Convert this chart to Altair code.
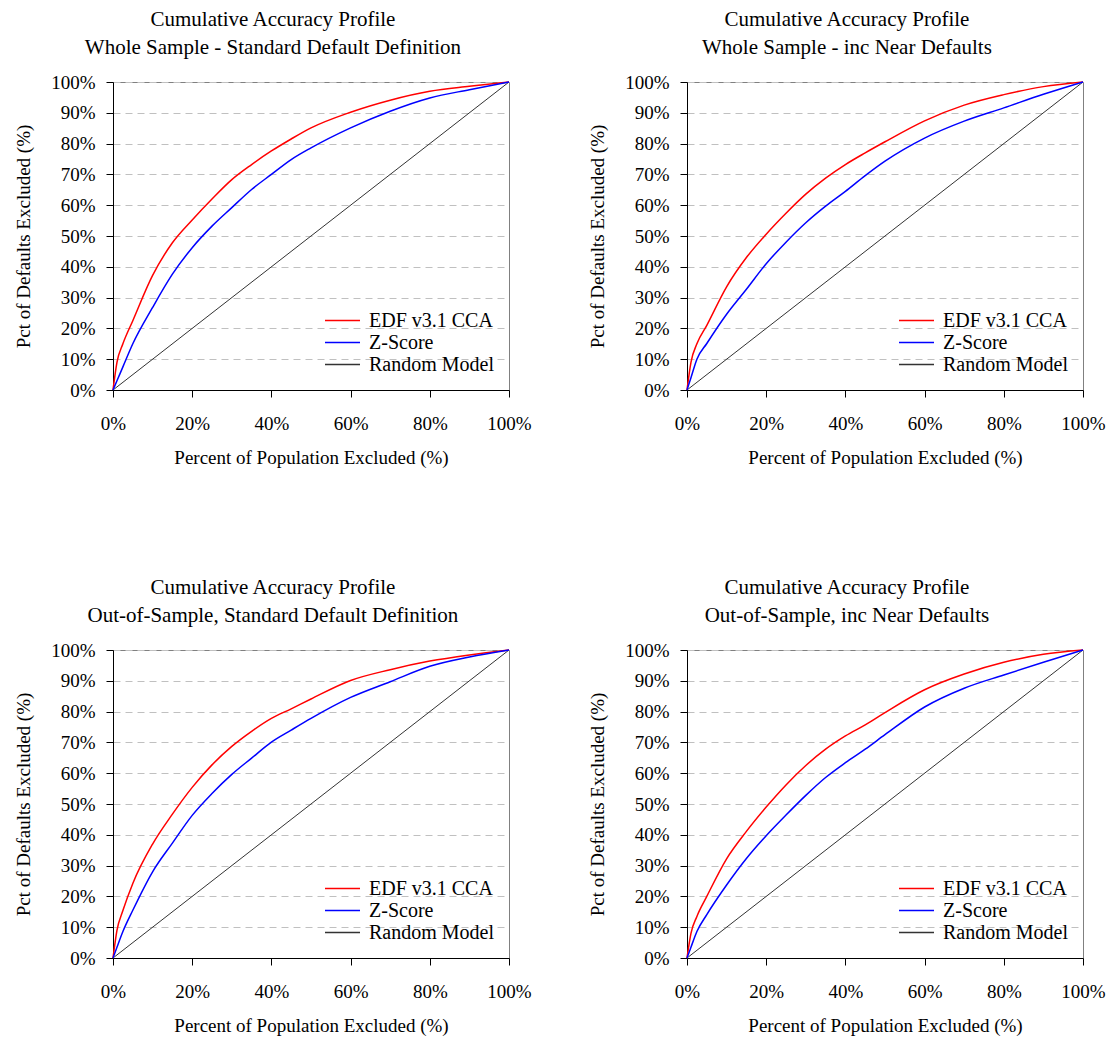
import altair as alt
import pandas as pd

FONT = "Liberation Serif"

series_names = ["EDF v3.1 CCA", "Z-Score", "Random Model"]
series_colors = ["#FF0000", "#0000FF", "#333333"]

title_line1 = "Cumulative Accuracy Profile"
panel_subtitles = [
    "Whole Sample - Standard Default Definition",
    "Whole Sample - inc Near Defaults",
    "Out-of-Sample, Standard Default Definition",
    "Out-of-Sample, inc Near Defaults",
]

x_title = "Percent of Population Excluded (%)"
y_title = "Pct of Defaults Excluded (%)"
x_ticks = [0, 20, 40, 60, 80, 100]
y_ticks = [0, 10, 20, 30, 40, 50, 60, 70, 80, 90, 100]

# Percent of population excluded (shared x grid for the curves)
pop_x = [0, 1, 2.5, 5, 10, 15, 20, 25, 30, 35, 40, 45, 50, 60, 70, 80, 90, 100]

# Panel 1: Whole Sample - Standard Default Definition
p1_edf = [0, 9, 15, 22.5, 37.2, 47.8, 55.2, 62, 68.3, 73.2, 77.6, 81.5, 85.1, 90.2, 94.1, 97, 98.6, 100]
p1_z = [0, 3, 7.5, 15, 26.8, 37.6, 46.2, 53.2, 59.2, 65.1, 70, 74.8, 78.6, 85.1, 90.5, 94.8, 97.5, 100]

# Panel 2: Whole Sample - inc Near Defaults
p2_edf = [0, 9, 15, 21, 33.5, 43, 50.6, 57.4, 63.6, 68.8, 73.2, 77, 80.6, 87.4, 92.5, 95.9, 98.5, 100]
p2_z = [0, 4, 10, 15.1, 24.6, 32.7, 41, 48, 54.3, 59.7, 64.5, 69.6, 74.3, 81.8, 87.3, 91.6, 96, 100]

# Panel 3: Out-of-Sample, Standard Default Definition
p3_edf = [0, 9, 15.4, 24.2, 37, 46.7, 55.4, 62.7, 68.7, 73.6, 77.8, 80.9, 84.1, 90.1, 93.6, 96.4, 98.4, 100]
p3_z = [0, 3.5, 8.6, 15.5, 28, 37.3, 46.3, 53.4, 59.6, 64.9, 70.1, 74, 77.8, 84.6, 89.7, 94.7, 97.7, 100]

# Panel 4: Out-of-Sample, inc Near Defaults
p4_edf = [0, 8, 13.5, 20, 32.2, 41.1, 49, 56.2, 62.5, 67.8, 72.1, 75.7, 79.7, 87.1, 92.2, 96, 98.6, 100]
p4_z = [0, 3.5, 8.6, 14.1, 23.7, 32.3, 39.7, 46.4, 52.8, 58.6, 63.4, 67.8, 72.5, 81.5, 87.6, 91.9, 96, 100]

random_x = [0, 100]
random_y = [0, 100]

panels_data = [(p1_edf, p1_z), (p2_edf, p2_z), (p3_edf, p3_z), (p4_edf, p4_z)]

W, H = 396, 308


def make_panel(idx):
    edf, z = panels_data[idx]
    rows = []
    for name, ys in [(series_names[0], edf), (series_names[1], z)]:
        for k, (a, b) in enumerate(zip(pop_x, ys)):
            rows.append({"x": a, "y": b, "series": name, "k": k})
    curves = pd.DataFrame(rows)
    rand = pd.DataFrame({"x": random_x, "y": random_y,
                         "series": [series_names[2]] * 2, "k": [0, 1]})

    xenc = alt.X("x:Q", scale=alt.Scale(domain=[0, 100], nice=False),
                 axis=alt.Axis(values=x_ticks, labelExpr="datum.value + '%'",
                               grid=False, title=x_title, labelFlush=False,
                               tickSize=7, labelPadding=17, titlePadding=15))
    yenc = alt.Y("y:Q", scale=alt.Scale(domain=[0, 100], nice=False),
                 axis=alt.Axis(values=y_ticks, labelExpr="datum.value + '%'",
                               grid=True, gridDash=[7, 5], gridColor="#c0c0c0",
                               title=y_title, tickSize=7, labelPadding=11,
                               titlePadding=17))
    color = alt.Color("series:N",
                      scale=alt.Scale(domain=series_names, range=series_colors),
                      legend=alt.Legend(title=None, orient="bottom-right", offset=15,
                                        symbolType="stroke", symbolSize=1225,
                                        symbolStrokeWidth=1.5, clipHeight=21,
                                        labelFontSize=20, labelFont=FONT,
                                        labelColor="black", rowPadding=1,
                                        labelOffset=8, padding=0))

    rand_layer = alt.Chart(rand).mark_line(strokeWidth=1).encode(
        x=xenc, y=yenc, color=color, order="k:Q")
    curve_layer = alt.Chart(curves).mark_line(strokeWidth=1.5, interpolate="monotone").encode(
        x=xenc, y=yenc, color=color, order="k:Q")

    return alt.layer(rand_layer, curve_layer).properties(
        width=W, height=H,
        title=alt.TitleParams([title_line1, panel_subtitles[idx]], fontSize=21,
                              font=FONT, fontWeight="normal", anchor="middle",
                              frame="bounds", lineHeight=28, offset=15,
                              color="black"),
    )


row1 = alt.hconcat(make_panel(0), make_panel(1), spacing=56).resolve_scale(color="independent")
row2 = alt.hconcat(make_panel(2), make_panel(3), spacing=56).resolve_scale(color="independent")

chart = alt.vconcat(row1, row2, spacing=108).resolve_scale(color="independent").properties(
    padding={"left": 6, "top": 0, "right": 0, "bottom": 0}
).configure(
    font=FONT
).configure_view(stroke="#808080", strokeWidth=1).configure_axis(
    labelFont=FONT, titleFont=FONT, labelFontSize=19, titleFontSize=19,
    titleFontWeight="normal", labelColor="black", titleColor="black",
    domainColor="black", tickColor="black", domainWidth=1, tickWidth=1,
)

chart.save("out.html", embed_options={"renderer": "svg", "actions": False})
